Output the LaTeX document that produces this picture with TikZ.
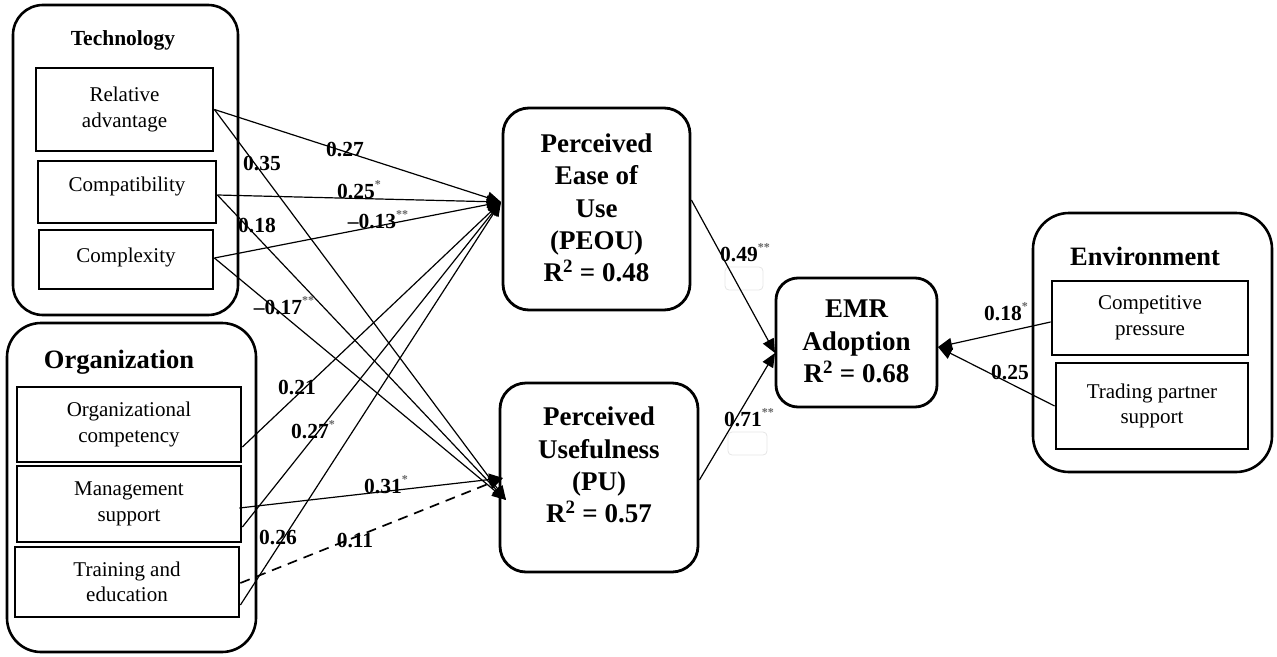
\documentclass[tikz,border=0pt]{standalone}
\usepackage{fontspec}
\setmainfont{Liberation Serif}
\usetikzlibrary{arrows.meta}
\newcommand\sigst[1]{\raisebox{0.45em}{\fontsize{12}{12}\selectfont\color{black!60}#1}}
\begin{document}
\begin{tikzpicture}[x=1pt,y=-1pt,
  grp/.style={draw, line width=2.6pt, rounded corners=30pt, inner sep=0pt},
  grptitle/.style={font=\bfseries\fontsize{26.5}{26.5}\selectfont, inner sep=0pt},
  item/.style={draw, line width=2.8pt, align=center, inner sep=0pt, font=\fontsize{21}{25.5}\selectfont},
  itemone/.style={draw, line width=2.8pt, inner sep=0pt, font=\fontsize{21}{25.5}\selectfont, text height=14.5pt},
  construct/.style={draw, line width=2.8pt, rounded corners=26pt, inner sep=0pt},
  ctext/.style={align=center, inner sep=0pt, font=\bfseries\fontsize{27}{32.3}\selectfont},
  pathline/.style={line width=1.2pt, -{Triangle[length=14pt,width=12pt]}},
  coef/.style={font=\bfseries\fontsize{21.5}{21.5}\selectfont, inner sep=0pt},
  ghost/.style={draw=black!10, line width=0.8pt, rounded corners=4pt, inner sep=0pt}
]
\useasboundingbox (0,0) rectangle (1277,656);

% containers
\node[grp, minimum width=225pt, minimum height=310pt] (tech) at (125.5,160) {};
\node[grp, rounded corners=34pt, minimum width=249pt, minimum height=329pt] (org) at (131.5,487.5) {};
\node[grp, rounded corners=36pt, minimum width=239pt, minimum height=259pt] (env) at (1152.5,342.5) {};
\node[grptitle, font=\bfseries\fontsize{21.5}{21.5}\selectfont] (techt) at (123,40) {Technology};
\node[grptitle] (orgt) at (119,362.5) {Organization};
\node[grptitle] (envt) at (1145,256) {Environment};

% items
\node[item, minimum width=177pt, minimum height=83pt] (ra) at (124.5,109.5) {Relative\\advantage};
\node[itemone, minimum width=178pt, minimum height=62pt, text depth=16pt] (cb) at (127,192) {Compatibility};
\node[itemone, minimum width=174pt, minimum height=59pt, text depth=9pt] (cx) at (126,259.5) {Complexity};
\node[item, minimum width=224pt, minimum height=75pt] (oc) at (129,424.5) {Organizational\\competency};
\node[item, minimum width=224pt, minimum height=76pt] (ms) at (129,504) {Management\\support};
\node[item, minimum width=224pt, minimum height=70pt] (te) at (127,582) {Training and\\education};
\node[item, minimum width=196pt, minimum height=74pt] (cpr) at (1150,318) {Competitive\\pressure};
\node[item, minimum width=192pt, minimum height=86pt] (tps) at (1152,406) {Trading partner\\support};

% constructs
\node[construct, minimum width=187pt, minimum height=202pt] (peou) at (596.5,209) {};
\node[ctext] (peoutxt) at (596.5,208) {Perceived\\Ease of\\Use\\(PEOU)\\R\textsuperscript{2} = 0.48};
\node[construct, minimum width=198pt, minimum height=189pt] (pu) at (599,477.5) {};
\node[ctext] (putxt) at (599,465) {Perceived\\Usefulness\\(PU)\\R\textsuperscript{2} = 0.57};
\node[construct, rounded corners=22pt, minimum width=161pt, minimum height=129pt] (emr) at (856.5,342.5) {};
\node[ctext] (emrtxt) at (856.5,341.5) {EMR\\Adoption\\R\textsuperscript{2} = 0.68};

% faint boxes
\node[ghost, minimum width=38pt, minimum height=23pt] (ghostA) at (744,278.5) {};
\node[ghost, minimum width=39pt, minimum height=23pt] (ghostB) at (747.5,443.5) {};

% targets
\coordinate (peouin) at (501,202);
\coordinate (puA) at (506,500);
\coordinate (puB) at (503,478);
\coordinate (emrin) at (775,353);
\coordinate (emrR) at (938,347);

% paths
\draw[pathline] (ra.east) -- (peouin);
\draw[pathline] (ra.east) -- (puA);
\draw[pathline] ([yshift=-3pt]cb.east) -- (peouin);
\draw[pathline] ([yshift=-3pt]cb.east) -- (puA);
\draw[pathline] ([yshift=1.5pt]cx.east) -- (peouin);
\draw[pathline] ([yshift=1.5pt]cx.east) -- (puA);
\draw[pathline] ([yshift=-22.5pt]oc.east) -- (peouin);
\draw[pathline] ([yshift=-23pt]ms.east) -- (peouin);
\draw[pathline] ([xshift=-3pt,yshift=-4pt]ms.east) -- (puB);
\draw[pathline] ([yshift=-23pt]te.east) -- (peouin);
\draw[pathline, line width=1.7pt, dash pattern=on 10pt off 7pt] ([yshift=-1pt]te.east) -- (puB);
\draw[pathline] ([yshift=9pt]peou.east) -- (emrin);
\draw[pathline] ([yshift=-2.5pt]pu.east) -- (emrin);
\draw[pathline] ([yshift=-4pt]cpr.west) -- (emrR);
\draw[pathline] (tps.west) -- (emrR);

% coefficients
\node[coef] (k1) at (345,150) {0.27};
\node[coef] (k2) at (262,163) {0.35};
\node[coef] (k3) at (359,190) {0.25\sigst{*}};
\node[coef] (k4) at (257,225) {0.18};
\node[coef] (k5) at (378,220) {–0.13\sigst{**}};
\node[coef] (k6) at (284,306) {–0.17\sigst{**}};
\node[coef] (k7) at (297,387) {0.21};
\node[coef] (k8) at (313,430) {0.27\sigst{*}};
\node[coef] (k9) at (386,485) {0.31\sigst{*}};
\node[coef] (k10) at (278,537) {0.26};
\node[coef] (k11) at (355,540) {0.11};
\node[coef] (k12) at (745,253) {0.49\sigst{**}};
\node[coef] (k13) at (749,418) {0.71\sigst{**}};
\node[coef] (k14) at (1006,312) {0.18\sigst{*}};
\node[coef] (k15) at (1010,372) {0.25};
\end{tikzpicture}
\end{document}
